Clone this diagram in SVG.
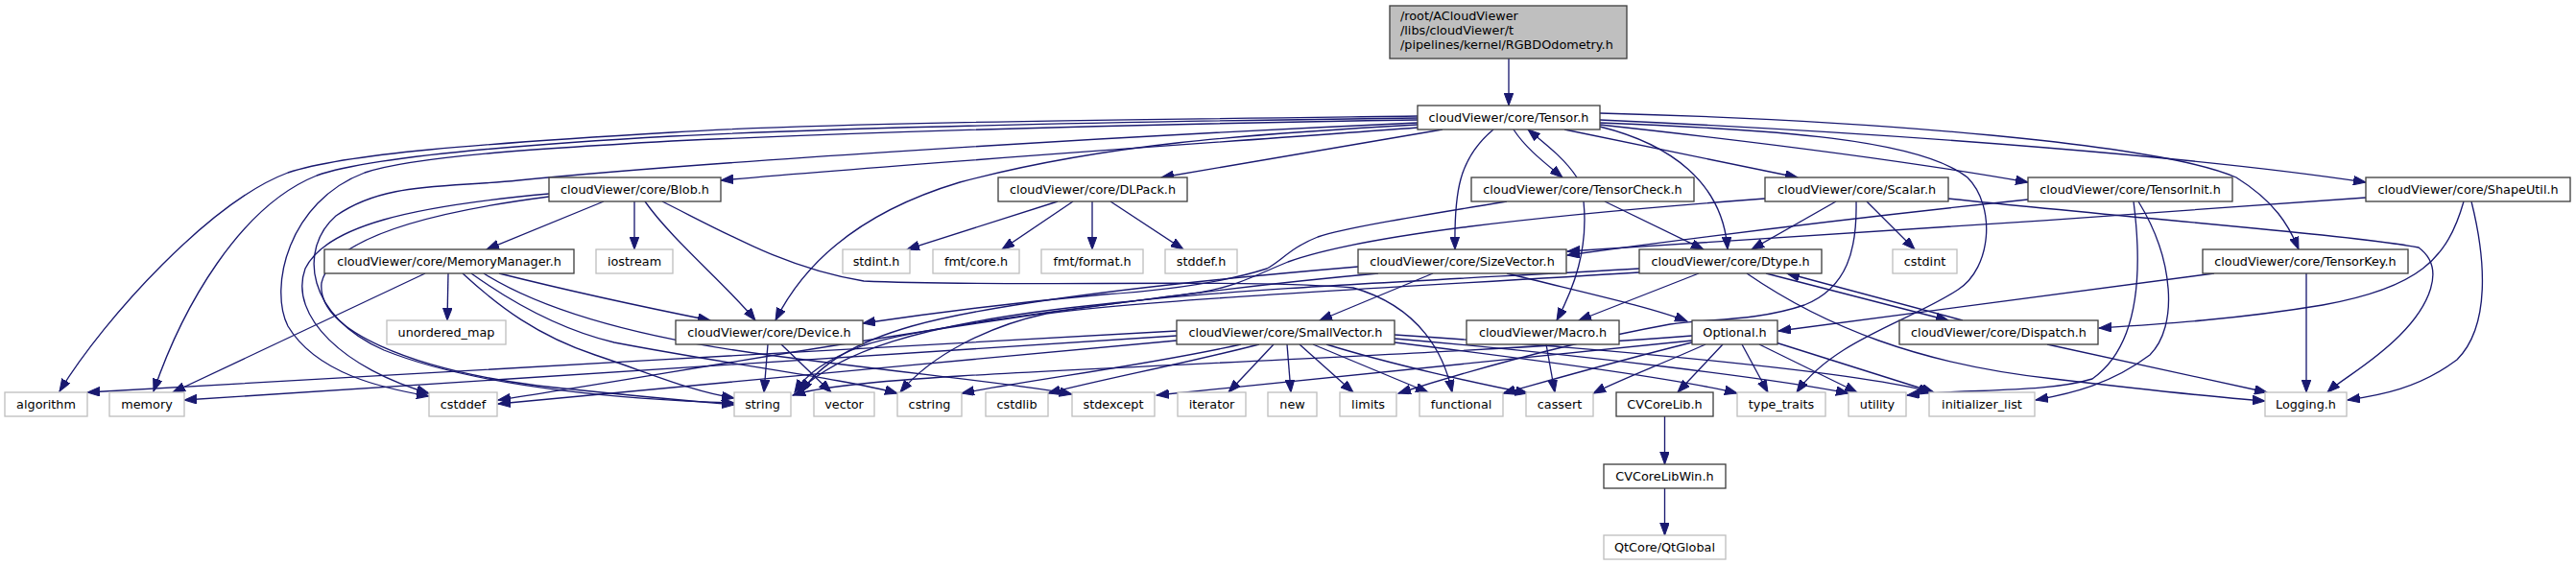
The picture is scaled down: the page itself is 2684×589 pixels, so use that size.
<svg xmlns="http://www.w3.org/2000/svg" width="2684" height="589" viewBox="0 0 2684 589">
<style>
.n{fill:#fff;stroke:#404040;stroke-width:1.33}
.x{fill:#fff;stroke:#bfbfbf;stroke-width:1.33}
.r{fill:#bfbfbf;stroke:#404040;stroke-width:1.33}
text{font-family:"DejaVu Sans","Liberation Sans",sans-serif;font-size:12.8px;fill:#000;text-anchor:middle}
text.l{text-anchor:start}
.c path{fill:none;stroke:#191970;stroke-width:1.33;marker-end:url(#a)}
</style>
<defs>
<marker id="a" markerWidth="14" markerHeight="10" refX="13" refY="4.8" orient="auto" markerUnits="userSpaceOnUse"><path d="M0,0 L13,4.8 L0,9.6 z" fill="#191970" stroke="#191970" stroke-width="1"/></marker>
</defs>
<rect width="2684" height="589" fill="#fff"/>
<g class="c" id="edges">
<path d="M1572,61 L1572,110"/>
<path d="M1477,121 C1150,125 850,128 700,138 C500,150 360,160 300,180 C220,210 110,330 62,408"/>
<path d="M1477,123 C1150,127 900,132 700,142 C520,152 380,165 330,183 C250,215 190,320 160,408"/>
<path d="M1477,125 C1150,130 900,138 700,147 C560,155 430,163 380,180 C300,210 280,300 300,340 C330,390 400,405 447,413"/>
<path d="M1477,128 C1100,145 700,172 540,188 C460,196 400,190 350,225 C310,260 320,330 400,365 C500,405 660,417 765,420"/>
<path d="M1667,128 C1850,135 2000,145 2050,185 C2080,215 2075,280 2040,302 C1990,335 1910,355 1872,409"/>
<path d="M1477,133 C1250,150 950,170 751,188"/>
<path d="M1503,135 L1210,185"/>
<path d="M1477,130 C1300,140 1150,150 1000,190 C900,220 840,270 808,334"/>
<path d="M1667,132 C1740,150 1795,190 1800,260"/>
<path d="M1630,135 L1873,185"/>
<path d="M1667,125 C2000,140 2300,165 2465,190"/>
<path d="M1667,130 C1850,150 2000,170 2113,190"/>
<path d="M1667,118 C1950,125 2250,150 2330,185 C2370,210 2385,235 2395,260"/>
<path d="M1556,135 C1520,165 1515,200 1516,260"/>
<path d="M1577,135 C1590,155 1610,170 1628,185"/>
<path d="M1643,185 C1630,165 1610,150 1592,135"/>
<path d="M629,210 L507,260"/>
<path d="M661,210 L661,260"/>
<path d="M672,210 C700,250 760,300 787,334"/>
<path d="M690,210 C760,245 820,280 900,293 C1050,300 1300,290 1410,300 C1480,320 1505,370 1513,409"/>
<path d="M572,202 C430,215 340,235 318,280 C300,330 360,385 447,410"/>
<path d="M572,205 C440,222 345,250 335,295 C330,345 430,385 560,402 C650,412 720,418 765,422"/>
<path d="M443,285 L180,409"/>
<path d="M467,285 L466,334"/>
<path d="M482,285 C520,320 560,350 620,370 C680,390 720,408 765,415"/>
<path d="M491,285 C540,320 590,345 640,357 C760,380 880,395 935,410"/>
<path d="M504,285 C560,320 650,350 800,370 C950,390 1060,400 1117,411"/>
<path d="M520,285 C580,300 660,318 740,334"/>
<path d="M1102,210 L945,260"/>
<path d="M1118,210 L1044,260"/>
<path d="M1138,210 L1138,260"/>
<path d="M1157,210 L1233,260"/>
<path d="M800,359 L796,409"/>
<path d="M814,359 L866,409"/>
<path d="M1570,210 C1460,228 1400,238 1373,247 C1345,258 1335,272 1320,280 C1270,296 1210,303 1150,307 C1050,316 960,328 899,337"/>
<path d="M1650,210 C1655,260 1640,300 1622,334"/>
<path d="M1672,210 L1775,260"/>
<path d="M1913,210 L1825,260"/>
<path d="M1945,210 L1995,260"/>
<path d="M2030,207 C2250,230 2450,245 2520,258 C2550,280 2530,320 2500,350 C2470,380 2440,395 2425,409"/>
<path d="M1934,210 C1935,260 1925,300 1880,318 C1830,335 1780,332 1740,338 C1620,360 1520,390 1457,410"/>
<path d="M1839,207 C1600,225 1420,245 1342,273 C1310,286 1290,298 1250,305 C1150,318 960,340 900,360 C860,375 840,390 828,409"/>
<path d="M1493,285 L1375,334"/>
<path d="M1570,285 C1650,305 1720,320 1758,335"/>
<path d="M1415,278 C1250,292 1050,312 950,340 C880,360 850,385 835,409"/>
<path d="M1436,285 C1100,315 700,390 519,417"/>
<path d="M1226,345 C900,362 400,392 91,409"/>
<path d="M1226,350 L192,417"/>
<path d="M1226,355 C1000,375 700,405 519,421"/>
<path d="M1293,359 C1200,380 1080,395 1002,410"/>
<path d="M1312,359 C1230,380 1150,395 1092,410"/>
<path d="M1327,359 L1280,409"/>
<path d="M1341,359 L1345,409"/>
<path d="M1354,359 L1410,409"/>
<path d="M1368,359 L1488,409"/>
<path d="M1382,359 C1450,380 1540,400 1592,410"/>
<path d="M1453,357 C1600,375 1750,395 1810,410"/>
<path d="M1453,353 C1650,370 1850,395 1926,410"/>
<path d="M1453,349 C1700,365 1950,390 2012,409"/>
<path d="M1611,359 L1620,409"/>
<path d="M1770,285 L1645,334"/>
<path d="M1840,285 L2030,334"/>
<path d="M2045,334 L1862,285"/>
<path d="M1820,285 C1900,340 2000,380 2140,395 C2250,408 2320,415 2360,418"/>
<path d="M1708,280 C1500,292 1300,300 1150,317 C950,337 870,370 831,409"/>
<path d="M1708,284 C1450,300 1200,312 1090,327 C1030,340 970,370 938,409"/>
<path d="M1795,359 L1748,409"/>
<path d="M1815,359 L1842,409"/>
<path d="M1833,359 L1935,409"/>
<path d="M1850,357 L2015,409"/>
<path d="M1777,359 C1730,380 1690,395 1660,410"/>
<path d="M1763,357 C1690,375 1620,395 1566,410"/>
<path d="M1763,355 L1205,412"/>
<path d="M1763,350 C1500,370 1200,380 1000,392 C900,398 850,404 826,412"/>
<path d="M2113,208 C1950,225 1750,250 1633,266"/>
<path d="M2223,210 C2232,280 2230,360 2180,395 C2130,410 2050,405 1987,412"/>
<path d="M2228,210 C2265,270 2270,340 2240,370 C2200,400 2160,410 2121,417"/>
<path d="M2465,206 C2200,225 1850,250 1633,262"/>
<path d="M2567,210 C2550,270 2520,300 2420,318 C2330,333 2250,338 2187,342"/>
<path d="M2575,210 C2590,270 2595,340 2560,375 C2520,405 2480,412 2446,417"/>
<path d="M2307,285 L1853,345"/>
<path d="M2403,285 L2403,409"/>
<path d="M2133,359 L2362,409"/>
<path d="M1734.5,434 L1734.5,484"/>
<path d="M1734.5,509 L1734.5,558"/>
</g>
<g id="root"><rect class="r" x="1448" y="6" width="247" height="55"/><text class="l" x="1459" y="21">/root/ACloudViewer</text><text class="l" x="1459" y="35.7">/libs/cloudViewer/t</text><text class="l" x="1459" y="50.5">/pipelines/kernel/RGBDOdometry.h</text></g>
<g id="tensor"><rect class="n" x="1477" y="110" width="190" height="25"/><text x="1572" y="127">cloudViewer/core/Tensor.h</text></g>
<g id="blob"><rect class="n" x="572" y="185" width="179" height="25"/><text x="661.5" y="202">cloudViewer/core/Blob.h</text></g>
<g id="dlpack"><rect class="n" x="1040" y="185" width="197" height="25"/><text x="1138.5" y="202">cloudViewer/core/DLPack.h</text></g>
<g id="tensorcheck"><rect class="n" x="1533" y="185" width="232" height="25"/><text x="1649" y="202">cloudViewer/core/TensorCheck.h</text></g>
<g id="scalar"><rect class="n" x="1839" y="185" width="191" height="25"/><text x="1934.5" y="202">cloudViewer/core/Scalar.h</text></g>
<g id="tensorinit"><rect class="n" x="2113" y="185" width="213" height="25"/><text x="2219.5" y="202">cloudViewer/core/TensorInit.h</text></g>
<g id="shapeutil"><rect class="n" x="2465" y="185" width="213" height="25"/><text x="2571.5" y="202">cloudViewer/core/ShapeUtil.h</text></g>
<g id="memorymanager"><rect class="n" x="338" y="260" width="260" height="25"/><text x="468" y="277">cloudViewer/core/MemoryManager.h</text></g>
<g id="iostream"><rect class="x" x="621" y="260" width="80" height="25"/><text x="661" y="277">iostream</text></g>
<g id="stdint"><rect class="x" x="878" y="260" width="70" height="25"/><text x="913" y="277">stdint.h</text></g>
<g id="fmtcore"><rect class="x" x="972" y="260" width="90" height="25"/><text x="1017" y="277">fmt/core.h</text></g>
<g id="fmtformat"><rect class="x" x="1085" y="260" width="106" height="25"/><text x="1138" y="277">fmt/format.h</text></g>
<g id="stddef"><rect class="x" x="1214" y="260" width="75" height="25"/><text x="1251.5" y="277">stddef.h</text></g>
<g id="sizevector"><rect class="n" x="1415" y="260" width="217" height="25"/><text x="1523.5" y="277">cloudViewer/core/SizeVector.h</text></g>
<g id="dtype"><rect class="n" x="1708" y="260" width="190" height="25"/><text x="1803" y="277">cloudViewer/core/Dtype.h</text></g>
<g id="cstdint"><rect class="x" x="1972" y="260" width="67" height="25"/><text x="2005.5" y="277">cstdint</text></g>
<g id="tensorkey"><rect class="n" x="2295" y="260" width="214" height="25"/><text x="2402" y="277">cloudViewer/core/TensorKey.h</text></g>
<g id="unordered_map"><rect class="x" x="403" y="334" width="124" height="25"/><text x="465" y="351">unordered_map</text></g>
<g id="device"><rect class="n" x="704" y="334" width="195" height="25"/><text x="801.5" y="351">cloudViewer/core/Device.h</text></g>
<g id="smallvector"><rect class="n" x="1226" y="334" width="227" height="25"/><text x="1339.5" y="351">cloudViewer/core/SmallVector.h</text></g>
<g id="macro"><rect class="n" x="1528" y="334" width="159" height="25"/><text x="1607.5" y="351">cloudViewer/Macro.h</text></g>
<g id="optional"><rect class="n" x="1763" y="334" width="89" height="25"/><text x="1807.5" y="351">Optional.h</text></g>
<g id="dispatch"><rect class="n" x="1979" y="334" width="207" height="25"/><text x="2082.5" y="351">cloudViewer/core/Dispatch.h</text></g>
<g id="algorithm"><rect class="x" x="5" y="409" width="86" height="25"/><text x="48" y="426">algorithm</text></g>
<g id="memory"><rect class="x" x="114" y="409" width="78" height="25"/><text x="153" y="426">memory</text></g>
<g id="cstddef"><rect class="x" x="447" y="409" width="71" height="25"/><text x="482.5" y="426">cstddef</text></g>
<g id="string"><rect class="x" x="765" y="409" width="59" height="25"/><text x="794.5" y="426">string</text></g>
<g id="vector"><rect class="x" x="848" y="409" width="63" height="25"/><text x="879.5" y="426">vector</text></g>
<g id="cstring"><rect class="x" x="935" y="409" width="67" height="25"/><text x="968.5" y="426">cstring</text></g>
<g id="cstdlib"><rect class="x" x="1027" y="409" width="65" height="25"/><text x="1059.5" y="426">cstdlib</text></g>
<g id="stdexcept"><rect class="x" x="1117" y="409" width="86" height="25"/><text x="1160" y="426">stdexcept</text></g>
<g id="iterator"><rect class="x" x="1227" y="409" width="71" height="25"/><text x="1262.5" y="426">iterator</text></g>
<g id="new"><rect class="x" x="1321" y="409" width="51" height="25"/><text x="1346.5" y="426">new</text></g>
<g id="limits"><rect class="x" x="1396" y="409" width="59" height="25"/><text x="1425.5" y="426">limits</text></g>
<g id="functional"><rect class="x" x="1479" y="409" width="87" height="25"/><text x="1522.5" y="426">functional</text></g>
<g id="cassert"><rect class="x" x="1590" y="409" width="70" height="25"/><text x="1625" y="426">cassert</text></g>
<g id="cvcorelib"><rect class="n" x="1684" y="409" width="101" height="25"/><text x="1734.5" y="426">CVCoreLib.h</text></g>
<g id="type_traits"><rect class="x" x="1810" y="409" width="92" height="25"/><text x="1856" y="426">type_traits</text></g>
<g id="utility"><rect class="x" x="1926" y="409" width="60" height="25"/><text x="1956" y="426">utility</text></g>
<g id="initializer_list"><rect class="x" x="2010" y="409" width="110" height="25"/><text x="2065" y="426">initializer_list</text></g>
<g id="logging"><rect class="x" x="2360" y="409" width="85" height="25"/><text x="2402.5" y="426">Logging.h</text></g>
<g id="cvcorelibwin"><rect class="n" x="1671" y="484" width="127" height="25"/><text x="1734.5" y="501">CVCoreLibWin.h</text></g>
<g id="qtglobal"><rect class="x" x="1671" y="558" width="127" height="25"/><text x="1734.5" y="575">QtCore/QtGlobal</text></g>
</svg>
